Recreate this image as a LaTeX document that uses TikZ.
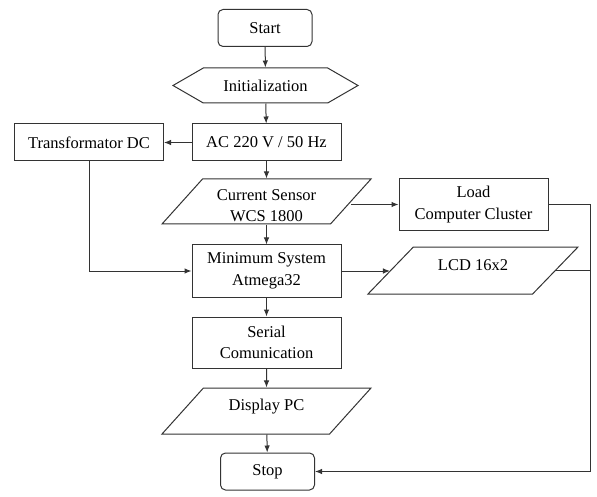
\documentclass[tikz,border=0pt]{standalone}
\usepackage{fontspec}
\setmainfont{Liberation Serif}
\usetikzlibrary{arrows.meta,positioning,shapes.geometric,shapes.symbols}

\begin{document}
\begin{tikzpicture}[
    x=1pt, y=-1pt,
    font=\fontsize{16.5}{21.5}\selectfont,
    line/.style={line width=1pt, draw=black!80},
    box/.style={rectangle, line, minimum width=149pt, minimum height=37pt, align=center, inner sep=2pt},
    term/.style={box, rounded corners=5pt, minimum width=94pt},
    prep/.style={signal, signal to=west and east, signal pointer angle=60, line, minimum width=185pt, minimum height=35pt, inner sep=2pt},
    io/.style={trapezium, trapezium left angle=48, trapezium right angle=132, trapezium stretches body, line, minimum width=209pt, align=center, inner xsep=2pt, inner ysep=0pt},
    arrow/.style={line, -{Latex[length=7pt,width=5.5pt]}}
]
    \useasboundingbox (0,0) rectangle (597,497);

    \node[term] (start) at (265,28) {Start};
    \node[prep] (init) at (265.5,85.5) {Initialization};
    \node[box] (ac) at (266.5,142.5) {AC 220 V / 50 Hz};
    \node[box] (trafo) at (89,142.5) {Transformator DC};
    \node[io, text height=43pt, text depth=2pt] (sensor) at (266.5,201.5) {Current Sensor\\WCS 1800};
    \node[box, minimum height=52pt] (load) at (473.5,204.5) {Load\\Computer Cluster};
    \node[box, minimum height=52pt] (mcu) at (266.5,271) {Minimum System\\Atmega32};
    \node[io, trapezium left angle=46, trapezium right angle=134, minimum width=210pt, text height=23pt, text depth=24pt] (lcd) at (473,270.5) {LCD 16x2};
    \node[box, minimum height=51pt] (serial) at (266.5,342.5) {Serial\\Comunication};
    \node[io, text height=22pt, text depth=24pt] (display) at (266.5,411) {Display PC};
    \node[term] (stop) at (267.5,471.5) {Stop};
    \coordinate (rail) at (590,0);

    \draw[arrow] (start) -- (init);
    \draw[arrow] (init) -- (ac);
    \draw[arrow] (ac) -- (trafo);
    \draw[arrow] (ac) -- (sensor);
    \draw[arrow] (sensor) -- (mcu);
    \draw[arrow] (trafo) |- (mcu);
    \draw[arrow] (sensor.east |- load.west) -- (load.west);
    \draw[arrow] (mcu.east) -- (mcu.east -| lcd.west);
    \draw[arrow] (mcu) -- (serial);
    \draw[arrow] (serial) -- (display);
    \draw[arrow] (display) -- (stop);
    \draw[arrow] (load.east) -| (rail |- stop) -- (stop);
    \draw[line] (lcd.east) -- (lcd.east -| rail);
\end{tikzpicture}
\end{document}
